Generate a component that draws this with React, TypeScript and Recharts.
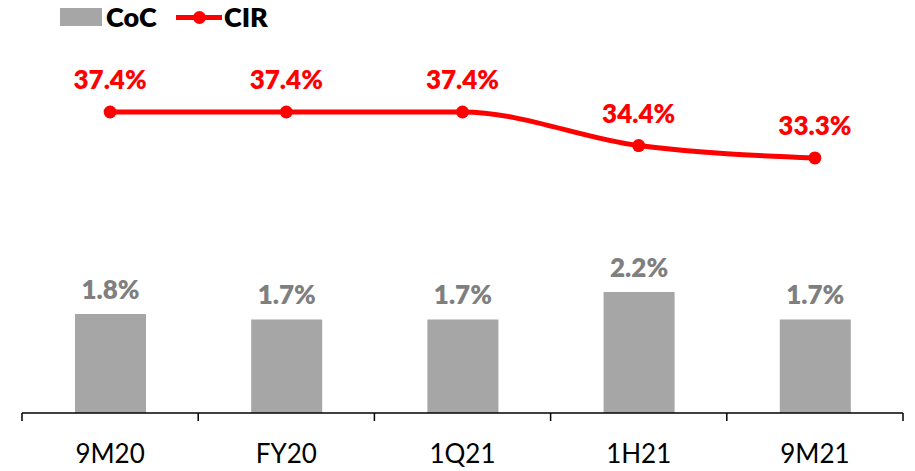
import { ComposedChart, Bar, Line, XAxis, YAxis, LabelList } from "recharts";

const periods = ["9M20", "FY20", "1Q21", "1H21", "9M21"];
const cocValues = [1.8, 1.7, 1.7, 2.2, 1.7];
const cirValues = [37.4, 37.4, 37.4, 34.4, 33.3];

const data = periods.map((p, i) => ({ period: p, coc: cocValues[i], cir: cirValues[i] }));

const FONT = "Lato, 'Open Sans', sans-serif";
const GRAY = "#a6a6a6";
const RED = "#ff0000";

function CategoryTick(props: any) {
  const { x, y, payload, index, visibleTicksCount } = props;
  const half = payload?.offset ?? 88;
  const last = index === (visibleTicksCount ?? 5) - 1;
  return (
    <g>
      <line x1={x - half} x2={x - half} y1={y - 8} y2={y} stroke="#000" strokeWidth={1.5} />
      {last && <line x1={x + half} x2={x + half} y1={y - 8} y2={y} stroke="#000" strokeWidth={1.5} />}
      <text x={x} y={y + 42} textAnchor="middle" fontFamily={FONT} fontSize={26} fill="#000">
        {payload.value}
      </text>
    </g>
  );
}

function ChartLegend() {
  return (
    <div style={{ position: "absolute", left: 0, top: 0, width: 300, height: 36, fontFamily: FONT, fontWeight: 800, fontSize: 27, zIndex: 2 }}>
      <div style={{ position: "absolute", left: 60, top: 8, width: 42, height: 18, background: GRAY }} />
      <div style={{ position: "absolute", left: 106, top: 0, lineHeight: "34px" }}>CoC</div>
      <div style={{ position: "absolute", left: 176, top: 15, width: 46, height: 5, background: RED }} />
      <div style={{ position: "absolute", left: 193, top: 11, width: 13, height: 13, borderRadius: 7, background: RED }} />
      <div style={{ position: "absolute", left: 224, top: 0, lineHeight: "34px" }}>CIR</div>
    </div>
  );
}

export default function App() {
  return (
    <div style={{ position: "absolute", left: 0, top: 0, width: 915, height: 471, background: "#fff" }}>
      <ChartLegend />
      <ComposedChart width={915} height={471} data={data} margin={{ top: 40, right: 12, bottom: 0, left: 22 }}>
        <XAxis
          dataKey="period"
          height={58}
          tickLine={false}
          tickSize={8}
          tickMargin={0}
          axisLine={{ stroke: "#000", strokeWidth: 1.5 }}
          tick={<CategoryTick />}
          interval={0}
        />
        <YAxis yAxisId="coc" hide domain={[0, 6.78]} />
        <YAxis yAxisId="cir" hide orientation="right" domain={[10.52, 43.83]} />
        <Bar yAxisId="coc" dataKey="coc" fill={GRAY} barSize={71} isAnimationActive={false}>
          <LabelList
            dataKey="coc"
            position="top"
            offset={15}
            formatter={(v: number) => `${v.toFixed(1)}%`}
            style={{ fontFamily: FONT, fontWeight: 800, fontSize: 26, fill: "#7f7f7f" }}
          />
        </Bar>
        <Line
          yAxisId="cir"
          dataKey="cir"
          type="monotone"
          stroke={RED}
          strokeWidth={5}
          dot={{ r: 6.5, fill: RED, stroke: RED, strokeWidth: 0 }}
          activeDot={false}
          isAnimationActive={false}
        >
          <LabelList
            dataKey="cir"
            position="top"
            offset={23}
            formatter={(v: number) => `${v.toFixed(1)}%`}
            style={{ fontFamily: FONT, fontWeight: 800, fontSize: 26, fill: RED }}
          />
        </Line>
      </ComposedChart>
    </div>
  );
}
